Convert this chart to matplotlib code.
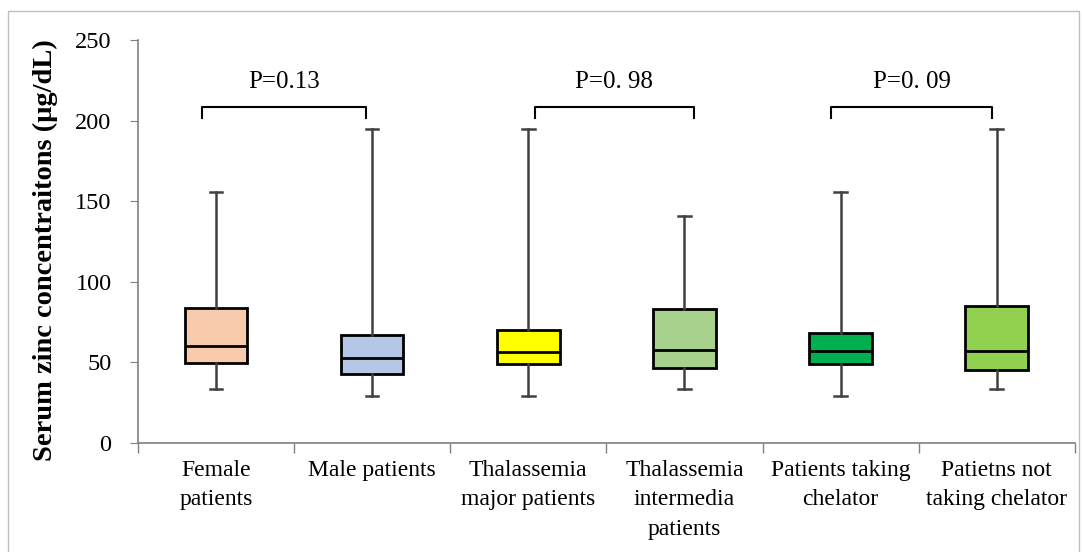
import matplotlib.pyplot as plt
from matplotlib.patches import Rectangle

plt.rcParams['font.family'] = ['Liberation Serif', 'DejaVu Serif']

# Groups and their box statistics
groups = ["Female\npatients", "Male patients", "Thalassemia\nmajor patients",
          "Thalassemia\nintermedia\npatients", "Patients taking\nchelator",
          "Patietns not\ntaking chelator"]
whisk_lo = [33.5, 29, 29, 33.5, 29, 33.5]
q1 = [49.5, 43, 49, 46.5, 49, 45.5]
medians = [60, 52.5, 56.5, 57.5, 57, 57]
q3 = [83.5, 67, 70, 83, 68, 85]
whisk_hi = [156, 195, 195, 141, 156, 195]
colors = ["#F8CBAD", "#B4C7E7", "#FFFF00", "#A9D18E", "#00B050", "#92D050"]

# Comparison brackets: (left, right, label)
pairs = [(-0.09, 0.96, "P=0.13"), (2.04, 3.06, "P=0. 98"), (3.94, 4.97, "P=0. 09")]
bracket_y = 208.5
bracket_drop = 7
label_y = 220.5

fig = plt.figure(figsize=(10.83, 5.52), dpi=100)
ax = fig.add_axes([0.1274, 0.1975, 0.865, 0.730])

stats = []
for i in range(len(groups)):
    stats.append({"whislo": whisk_lo[i], "q1": q1[i], "med": medians[i],
                  "q3": q3[i], "whishi": whisk_hi[i], "fliers": []})

bp = ax.bxp(stats, positions=range(len(groups)), widths=0.4, patch_artist=True,
            capwidths=0.08,
            boxprops=dict(edgecolor="black", linewidth=2),
            medianprops=dict(color="black", linewidth=2),
            whiskerprops=dict(color="#404040", linewidth=1.8),
            capprops=dict(color="#404040", linewidth=1.8))
for patch, c in zip(bp["boxes"], colors):
    patch.set_facecolor(c)

# P-value brackets
for x0, x1, txt in pairs:
    ax.plot([x0, x0, x1, x1], [bracket_y - bracket_drop, bracket_y, bracket_y, bracket_y - bracket_drop],
            color="black", linewidth=1.5, clip_on=False)
    ax.text((x0 + x1) / 2, label_y, txt, ha="center", va="baseline", fontsize=18)

ax.set_xlim(-0.5, len(groups) - 0.5)
ax.set_ylim(0, 250)
ax.set_yticks(range(0, 251, 50))
ax.set_xticks(range(len(groups)))
ax.set_xticklabels(groups, fontsize=17, va="top")
for lbl in ax.get_xticklabels():
    lbl.set_linespacing(1.55)
ax.set_xticks([i - 0.5 for i in range(len(groups) + 1)], minor=True)
ax.tick_params(axis="x", which="major", length=0, pad=12)
ax.tick_params(axis="x", which="minor", length=7, color="#808080", width=1)
ax.tick_params(axis="y", length=6, color="#808080", labelsize=17.5, pad=13)

for s in ["top", "right"]:
    ax.spines[s].set_visible(False)
for s in ["left", "bottom"]:
    ax.spines[s].set_color("#808080")
    ax.spines[s].set_linewidth(1.2)

ax.set_ylabel("Serum zinc concentraitons (μg/dL)", fontsize=20.5, fontweight="bold")
ax.yaxis.set_label_coords(-0.085, 0.479)

# outer chart frame
fig.patches.append(Rectangle((8 / 1083, -0.01), 1071 / 1083, 0.99, transform=fig.transFigure,
                             fill=False, edgecolor="#BFBFBF", linewidth=1))

fig.savefig("out.png", dpi=100)
